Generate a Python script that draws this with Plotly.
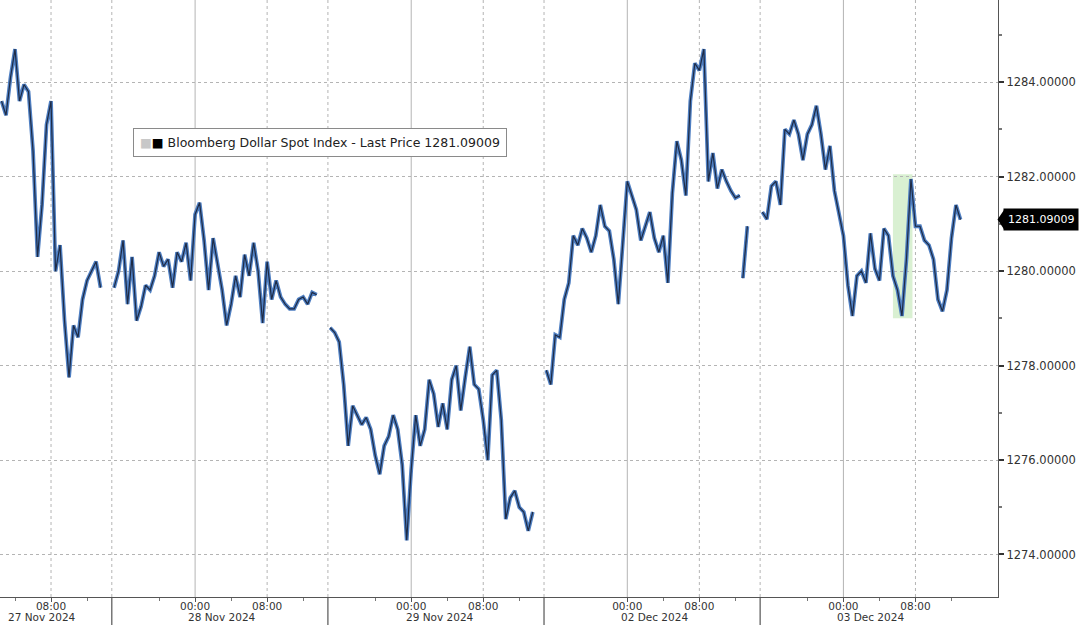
import pandas as pd
import plotly.graph_objects as go

"""Bloomberg Dollar Spot Index - intraday, 30 min steps read off the chart"""

seg_a_start = '2024-11-27 02:30'
seg_a = [1283.6, 1283.3, 1284.1, 1284.7, 1283.6, 1283.95, 1283.8, 1282.55, 1280.3, 1281.4,
         1283.1, 1283.6, 1280.0, 1280.55, 1278.95, 1277.75, 1278.85, 1278.6, 1279.4, 1279.8,
         1280.0, 1280.2, 1279.65]

seg_b_start = '2024-11-27 15:00'
seg_b = [1279.65, 1280.0, 1280.65, 1279.3, 1280.3, 1278.95, 1279.25, 1279.7, 1279.6, 1279.9,
         1280.4, 1280.1, 1280.25, 1279.65, 1280.4, 1280.2, 1280.6, 1279.8, 1281.2, 1281.45,
         1280.65, 1279.6, 1280.7, 1280.1, 1279.6, 1278.85, 1279.3, 1279.9, 1279.45, 1280.35,
         1279.9, 1280.6, 1280.0, 1278.9, 1280.2, 1279.4, 1279.8, 1279.45, 1279.3, 1279.2,
         1279.2, 1279.4, 1279.45, 1279.3, 1279.55, 1279.5]

seg_c_start = '2024-11-28 15:00'
seg_c = [1278.8, 1278.7, 1278.5, 1277.6, 1276.3, 1277.15, 1276.95, 1276.75, 1276.9, 1276.65,
         1276.1, 1275.7, 1276.3, 1276.5, 1276.95, 1276.65, 1275.9, 1274.3, 1275.8, 1276.95,
         1276.3, 1276.65, 1277.7, 1277.4, 1276.7, 1277.2, 1276.65, 1277.7, 1278.0, 1277.05,
         1277.75, 1278.4, 1277.6, 1277.5, 1276.85, 1276.0, 1277.8, 1277.9, 1276.85, 1274.75,
         1275.2, 1275.35, 1275.0, 1274.9, 1274.5, 1274.9]

seg_d_start = '2024-12-01 15:00'
seg_d = [1277.9, 1277.6, 1278.65, 1278.6, 1279.4, 1279.75, 1280.75, 1280.55, 1280.9, 1280.7,
         1280.4, 1280.75, 1281.4, 1280.95, 1280.85, 1280.25, 1279.3, 1280.65, 1281.9, 1281.6,
         1281.3, 1280.65, 1280.95, 1281.25, 1280.7, 1280.4, 1280.75, 1279.75, 1281.65, 1282.75,
         1282.35, 1281.6, 1283.6, 1284.4, 1284.25, 1284.7, 1281.9, 1282.5, 1281.75, 1282.15,
         1281.9, 1281.7, 1281.55, 1281.6]

seg_d2_start = '2024-12-02 12:50'
seg_d2 = [1279.85, 1280.95]

seg_e_start = '2024-12-02 15:00'
seg_e = [1281.25, 1281.1, 1281.8, 1281.9, 1281.4, 1283.0, 1282.9, 1283.2, 1282.9, 1282.35,
         1282.9, 1283.1, 1283.5, 1282.9, 1282.15, 1282.65, 1281.7, 1281.2, 1280.75, 1279.7,
         1279.05, 1279.9, 1280.0, 1279.75, 1280.8, 1280.05, 1279.8, 1280.9, 1280.75, 1279.9,
         1279.6, 1279.05, 1280.25, 1281.95, 1280.95, 1280.95, 1280.65, 1280.55, 1280.25, 1279.4,
         1279.15, 1279.6, 1280.7, 1281.4, 1281.09009]

segments = [(seg_a_start, seg_a), (seg_b_start, seg_b), (seg_c_start, seg_c),
            (seg_d_start, seg_d), (seg_d2_start, seg_d2), (seg_e_start, seg_e)]

last_price = 1281.09009

# axis labels
day_starts = ['2024-11-28', '2024-11-29', '2024-12-02', '2024-12-03']
eight_am = ['2024-11-27 08:00', '2024-11-28 08:00', '2024-11-29 08:00', '2024-12-02 08:00', '2024-12-03 08:00']
day_bounds = ['2024-11-27 14:45', '2024-11-28 14:45', '2024-11-29 14:45', '2024-12-02 14:45']
day_labels = ['27 Nov 2024', '28 Nov 2024', '29 Nov 2024', '02 Dec 2024', '03 Dec 2024']
day_label_pos = ['2024-11-27 07:00', '2024-11-28 03:00', '2024-11-29 03:10', '2024-12-02 03:00', '2024-12-03 03:00']
y_ticks = [1274, 1276, 1278, 1280, 1282, 1284]

# highlighted window
band_x = ['2024-12-03 05:30', '2024-12-03 07:40']
band_y = [1279.0, 1282.05]

#build x/y with gaps between sessions
xs, ys = [], []
for start, vals in segments:
    xs += list(pd.date_range(start, periods=len(vals), freq='30min'))
    ys += vals
    xs.append(None)
    ys.append(None)

fig = go.Figure()
fig.add_trace(go.Scatter(x=xs, y=ys, mode='lines', line=dict(color='#4f7fc2', width=3.8),
                         hoverinfo='skip', showlegend=False))
fig.add_trace(go.Scatter(x=xs, y=ys, mode='lines', line=dict(color='#1e2b45', width=1.2),
                         showlegend=False))

grey = '#b4b4b4'
shapes = []
shapes.append(dict(type='rect', xref='x', yref='y', x0=band_x[0], x1=band_x[1], y0=band_y[0], y1=band_y[1],
                   fillcolor='rgba(196,232,186,0.65)', line=dict(width=0), layer='below'))
for d in day_starts:
    shapes.append(dict(type='line', xref='x', yref='paper', x0=d, x1=d, y0=0, y1=1,
                       line=dict(color=grey, width=1), layer='below'))
for d in eight_am + day_bounds:
    shapes.append(dict(type='line', xref='x', yref='paper', x0=d, x1=d, y0=0, y1=1,
                       line=dict(color=grey, width=1, dash='dot'), layer='below'))
for d in day_bounds:
    shapes.append(dict(type='line', xref='x', yref='paper', x0=d, x1=d, y0=-0.06, y1=0,
                       line=dict(color='#555555', width=1.2)))
# pointer of the last price tag
shapes.append(dict(type='path', xref='paper', yref='y',
                   path=f'M 0.9995 {last_price} L 1.0065 {last_price + 0.22} L 1.0065 {last_price - 0.22} Z',
                   fillcolor='black', line=dict(width=0)))
fig.update_layout(shapes=shapes)

annotations = []
for lbl, pos in zip(day_labels, day_label_pos):
    annotations.append(dict(x=pos, xref='x', y=-0.047, yref='paper', text=lbl, showarrow=False,
                            yanchor='bottom', font=dict(size=10.5, color='#333333')))
annotations.append(dict(x=1.0055, xref='paper', y=last_price, yref='y', xanchor='left', text=f'{last_price:.5f}',
                        showarrow=False, bgcolor='black', borderpad=4, font=dict(size=11, color='white')))
annotations.append(dict(x=0.1335, xref='paper', y=0.762, yref='paper', xanchor='left', yanchor='middle',
                        text="<span style='color:#c8c8c8'>■</span><span style='color:#000000'>■</span> "
                             f"Bloomberg Dollar Spot Index - Last Price {last_price:.5f}",
                        showarrow=False, bgcolor='white', bordercolor='#8a8a8a', borderwidth=1, borderpad=6,
                        font=dict(size=12.5, color='#222222')))
fig.update_layout(annotations=annotations)

tick_vals = sorted(eight_am + day_starts)
tick_text = [pd.Timestamp(t).strftime('%H:%M') for t in tick_vals]
minor_vals = [pd.Timestamp(d) + pd.Timedelta(hours=h)
              for d in ['2024-11-27', '2024-11-28', '2024-11-29', '2024-12-02', '2024-12-03'] for h in [4, 12, 20]]

fig.update_xaxes(type='date', range=['2024-11-27 02:20', '2024-12-03 17:10'],
                 rangebreaks=[dict(values=['2024-11-29 15:00:00'], dvalue=48 * 3600 * 1000)],
                 tickmode='array', tickvals=tick_vals, ticktext=tick_text,
                 ticks='outside', ticklen=4, tickcolor='#555555', ticklabelstandoff=-5,
                 minor=dict(tickmode='array', tickvals=minor_vals, ticks='outside', ticklen=3, tickcolor='#777777'),
                 showgrid=False, showline=True, linecolor='#555555', linewidth=1.2,
                 tickfont=dict(size=10.5, color='#333333'), zeroline=False, automargin=False)
fig.update_yaxes(side='right', range=[1273.1, 1285.74], tickvals=y_ticks, tickformat='.5f',
                 ticks='outside', ticklen=5, tickwidth=2, tickcolor='#333333',
                 minor=dict(dtick=1, ticks='outside', ticklen=3, tickcolor='#777777', showgrid=False),
                 showgrid=True, gridcolor=grey, griddash='dot', gridwidth=1,
                 showline=True, linecolor='#555555', linewidth=1.2,
                 tickfont=dict(size=11.5, color='#333333'), zeroline=False, automargin=False)

fig.update_layout(width=1080, height=625, margin=dict(l=0, r=82, t=0, b=28),
                  plot_bgcolor='white', paper_bgcolor='white',
                  font=dict(family='DejaVu Sans', size=11, color='#333333'),
                  hovermode='x')

# page body has a default 8px margin, drop it so the chart sits at the window corner
fig.write_html("out.html", config={'displayModeBar': False},
               post_script="document.body.style.margin='0';")
